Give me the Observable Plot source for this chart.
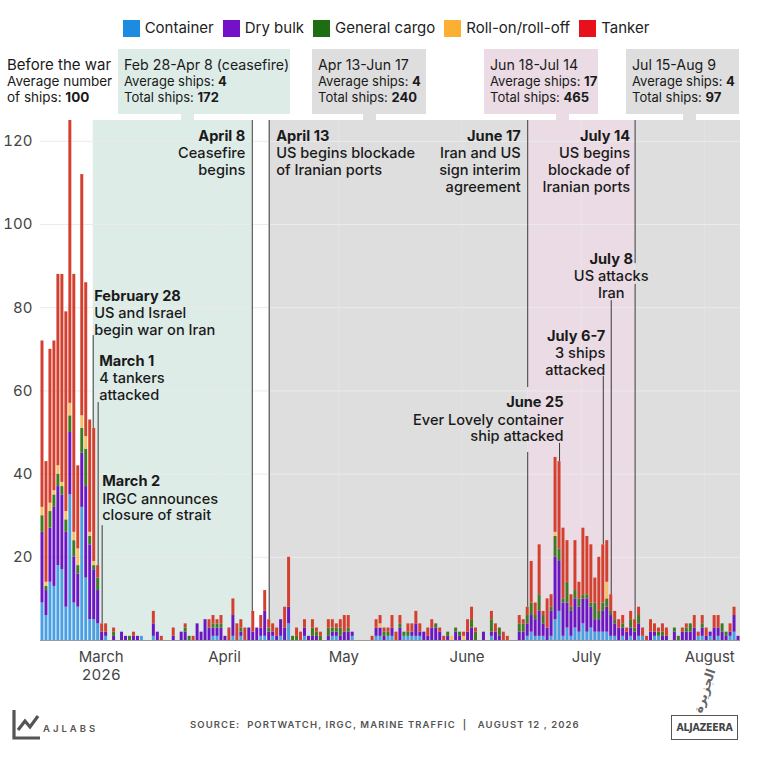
<!DOCTYPE html>
<html><head><meta charset="utf-8">
<script src="https://cdn.jsdelivr.net/npm/d3@7"></script>
<script src="https://cdn.jsdelivr.net/npm/@observablehq/plot@0.6"></script>
<style>
body{margin:0;background:#fff;font-family:Inter,"Open Sans",sans-serif;color:#1a1a1a}
#wrap{position:relative;width:772px;height:765px;overflow:hidden;background:#fff}
#chart{position:absolute;left:0;top:0}
.legend{position:absolute;top:19px;left:0;width:772px;display:flex;justify-content:center;font-size:15px;line-height:18px;color:#222}
.legend .it{display:flex;align-items:center;margin:0 4.5px}
.legend .sw{display:inline-block;width:17px;height:17px;margin-right:5px}
.box{position:absolute;top:49px;height:65px;padding:8px 6px 0 6px;box-sizing:border-box;font-size:13px;line-height:16px;color:#1a1a1a;white-space:nowrap}
.box .t{font-size:14.2px}
.box b{font-weight:700}
.stub{position:absolute;top:113px;height:9px;width:13px}
.footer-src{position:absolute;top:719px;left:190px;font-size:9.5px;letter-spacing:1.1px;color:#555;font-weight:600;white-space:nowrap}
.ajlabs{position:absolute;left:12px;top:708px}
.aj{position:absolute;left:670px;top:670px;width:70px;height:72px}
</style></head>
<body><div id="wrap">
<div id="chart"></div>
<div class="legend" id="legend"></div>
<div id="boxes"></div>
<div class="footer-src">SOURCE:&nbsp; PORTWATCH, IRGC, MARINE TRAFFIC &nbsp;|&nbsp;&nbsp; AUGUST 12 , 2026</div>
<div class="ajlabs"><svg width="90" height="34" viewBox="0 0 90 34">
<path d="M2 2 V30 H28" fill="none" stroke="#555" stroke-width="3.2"/>
<path d="M6 22 L13 13 L18 19 L26 8" fill="none" stroke="#555" stroke-width="3.2"/>
<text x="31" y="24" font-size="9.5" letter-spacing="3" fill="#555" font-family="Inter, sans-serif" font-weight="600">AJLABS</text>
</svg></div>
<div class="aj">
<div style="position:absolute;left:12px;top:14px;width:44px;text-align:center;font-family:'DejaVu Sans',sans-serif;font-weight:bold;font-size:12.5px;color:#666;transform:rotate(-72deg);transform-origin:50% 50%">الجزيرة</div>
<div style="position:absolute;left:1px;top:45px;width:67px;height:25px;border:1.6px solid #555;box-sizing:border-box;font-family:'DejaVu Sans Condensed','DejaVu Sans',sans-serif;font-weight:700;font-size:10.5px;letter-spacing:-0.3px;line-height:22px;text-align:center;color:#444">ALJAZEERA</div>
</div>
</div>
<script>
// ---- Data: daily ships transiting, from Feb 15 2026 (one value per day) ----
const startDate = "2026-02-15";
const types = ["Container", "Dry bulk", "General cargo", "Roll-on/roll-off", "Tanker"];
const legendColors = ["#1c8ce0", "#7410c8", "#1d6e12", "#fbb034", "#e8101a"];
const barColors = ["#4a9fe2", "#6a16c2", "#3f7a22", "#f6bf63", "#d4402f"];

const container = [
  9,6,14,13,18,17,8,  35,9,8,32,15,5,5,  4,0,1,0,0,0,0,  0,0,0,0,1,0,0,  1,0,0,0,0,0,0,
  0,0,0,0,0,0,0,  0,1,1,0,0,0,1,  0,1,0,0,0,0,1,  1,0,1,0,1,0,4,  0,0,0,1,0,0,0,
  0,0,0,1,1,0,0,  0,1,0,0,0,0,0,  1,1,0,1,1,0,0,  1,1,1,1,1,0,0,  0,0,0,0,0,0,0,
  0,0,0,0,0,0,0,  0,1,0,0,0,0,0,  0,0,0,1,2,1,1,  1,0,1,5,7,1,3,  1,3,2,4,2,3,2,
  2,2,2,1,1,0,1,  0,1,0,1,1,0,0,  1,1,0,0,0,0,0,  0,0,0,0,1,1,0,  1,0,1,0,0,1,2,  0];
const dryBulk = [
  17,6,13,19,19,18,18,  15,11,8,13,22,18,12,  8,2,1,0,1,0,2,  1,0,1,1,0,0,0,  3,2,0,0,0,1,0,
  2,2,0,0,4,2,5,  3,2,2,3,1,0,5,  0,1,0,3,2,3,2,  6,2,1,1,4,3,4,  0,0,0,2,1,1,1,
  0,0,1,1,1,1,2,  2,1,0,0,0,0,0,  2,2,1,0,2,0,3,  0,0,1,3,1,2,1,  3,3,2,0,1,0,2,
  1,0,2,3,0,0,2,  0,1,2,1,0,0,0,  0,2,2,3,4,4,6,  3,3,6,15,12,8,6,  6,7,6,6,8,5,3,
  3,5,6,5,3,3,2,  2,2,2,3,0,0,2,  1,0,1,1,0,2,0,  2,2,2,3,0,2,1,  1,3,2,2,1,1,4,  1];
const generalCargo = [
  4,1,4,3,3,2,3,  4,4,2,6,9,2,1,  3,0,0,0,1,0,0,  0,1,0,0,0,0,0,  0,0,0,0,0,0,0,
  0,1,1,0,0,0,0,  0,1,1,1,0,0,0,  0,1,0,0,0,0,0,  0,1,0,0,0,0,0,  1,1,0,0,0,2,1,
  1,0,2,1,1,2,0,  1,0,0,0,0,0,0,  0,0,1,1,0,0,1,  1,1,0,0,0,0,0,  0,1,0,0,1,0,1,
  1,0,0,2,2,0,0,  0,3,0,2,0,0,0,  0,2,2,2,3,1,4,  2,0,1,5,3,1,5,  1,2,2,1,1,1,4,
  2,2,2,1,1,0,1,  0,2,1,2,0,0,0,  0,1,1,0,0,1,1,  0,1,2,0,0,1,0,  0,0,0,2,1,0,0,  0];
const rollOnRollOff = [
  2,1,2,1,2,1,2,  3,2,4,3,3,1,1,  0,0,0,0,0,0,0,  0,0,0,0,0,0,0,  0,0,0,0,0,0,0,
  0,0,0,0,0,0,0,  0,0,0,0,0,0,0,  0,0,0,0,0,0,0,  0,0,0,0,0,0,0,  0,0,0,0,0,0,0,
  0,0,0,0,0,0,0,  0,0,0,0,0,0,0,  0,1,0,0,0,0,0,  0,0,0,0,0,0,0,  0,0,0,0,0,1,0,
  0,1,0,0,0,0,0,  0,0,0,0,0,0,0,  0,0,0,0,0,0,0,  0,0,0,1,0,0,0,  0,0,0,0,0,0,0,
  0,0,4,0,0,0,0,  0,0,0,0,0,0,0,  0,0,0,0,0,0,0,  0,0,0,0,0,0,0,  0,0,0,0,0,0,0,  0];
const tanker = [
  40,29,37,36,46,50,48,  68,62,20,58,37,27,32,  3,2,2,0,1,0,0,  0,0,1,0,0,0,0,  3,0,1,0,0,2,0,
  0,1,0,1,0,0,0,  2,2,1,2,0,3,4,  4,2,3,0,5,0,3,  5,2,2,2,0,5,12,  0,2,2,2,0,2,1,
  1,0,2,2,1,2,4,  3,0,0,0,0,0,1,  2,2,1,1,3,2,2,  0,2,2,3,2,0,2,  2,0,1,1,0,0,0,
  0,1,3,3,1,0,0,  0,2,2,0,2,1,0,  0,2,1,2,10,3,12,  1,7,3,18,21,17,10,  3,12,4,16,14,14,6,
  13,14,10,4,2,2,2,  1,2,2,2,2,1,3,  2,1,2,2,0,0,0,  1,1,0,3,1,2,2,  0,3,3,0,0,2,2,  0];

// Period shading and summary boxes
const periodStarts = ["2026-02-28T06:00", "2026-04-13T12:00", "2026-06-17T12:00", "2026-07-14T12:00"];
const periodEnds   = ["2026-04-09T06:00", "2026-06-17T12:00", "2026-07-14T12:00", "2026-08-10T00:00"];
const periodColors = ["#deece8", "#dedede", "#ebdbe4", "#dedede"];
const boxTitles = ["Feb 28-Apr 8 (ceasefire)", "Apr 13-Jun 17", "Jun 18-Jul 14", "Jul 15-Aug 9"];
const boxAverages = [4, 4, 17, 4];
const boxTotals = [172, 240, 465, 97];
const prewarAverage = 100;

// Event annotations
const eventDates = ["2026-02-28T06:00","2026-03-01T12:00","2026-03-02T12:00","2026-04-09T06:00","2026-04-13T12:00",
                    "2026-06-17T12:00","2026-06-25T12:00","2026-07-06T12:00","2026-07-08T12:00","2026-07-14T12:00"];
const eventTitles = ["February 28","March 1","March 2","April 8","April 13","June 17","June 25","July 6-7","July 8","July 14"];
const eventBodies = ["US and Israel\nbegin war on Iran","4 tankers\nattacked","IRGC announces\nclosure of strait",
                     "Ceasefire\nbegins","US begins blockade\nof Iranian ports","Iran and US\nsign interim\nagreement",
                     "Ever Lovely container\nship attacked","3 ships\nattacked","US attacks\nIran","US begins\nblockade of\nIranian ports"];
const eventTextY = [82.7, 67.1, 38.2, 121.2, 121.2, 121.2, 57.2, 73.1, 91.6, 121.2];
const eventLineTop = [73.3, 57.2, 27.6, 125, 125, 125, 47.4, 63.5, 81.7, 125];
// where a leader line passes behind another event's text, it is interrupted
const eventGapHigh = [null, null, null, null, null, 60.8, null, null, null, 90.6];
const eventGapLow  = [null, null, null, null, null, 45.2, null, null, null, 85.6];
const eventAnchor = ["start","start","start","end","start","end","end","end","middle","end"];
const eventDx = [1, 1, 0, -7, 7, -7, 4, 2, 0, -5];

const yTicks = [20, 40, 60, 80, 100, 120];

// ---- Build tables ----
const start = new Date(startDate + "T00:00Z");
const series = [container, dryBulk, generalCargo, rollOnRollOff, tanker];
const dates = container.map((_, i) => d3.utcDay.offset(start, i));
const rows = [];
dates.forEach((d, i) => types.forEach((t, k) => rows.push({date: d, type: t, value: series[k][i]})));
const totals = dates.map((d, i) => d3.sum(series, s => s[i]));
const end = d3.utcDay.offset(start, dates.length);
const totalAt = (dt) => totals[d3.utcDay.count(start, d3.utcDay.floor(dt))];

const periods = periodStarts.map((s, i) => ({x1: new Date(s + "Z"), x2: new Date(periodEnds[i] + "Z"), color: periodColors[i]}));
const events = eventDates.map((s, i) => {
  const d = new Date(s + "Z");
  return {date: d, title: eventTitles[i], body: eventBodies[i], ty: eventTextY[i],
          top: eventLineTop[i], bottom: totalAt(d), anchor: eventAnchor[i], dx: eventDx[i],
          gapHigh: eventGapHigh[i], gapLow: eventGapLow[i]};
});
const segments = events.flatMap(e => e.gapHigh == null
  ? [{date: e.date, y1: e.bottom, y2: e.top}]
  : [{date: e.date, y1: e.gapHigh, y2: e.top}, {date: e.date, y1: e.bottom, y2: e.gapLow}]);
const monthStarts = d3.utcMonths(new Date("2026-03-01T00:00Z"), new Date("2026-08-02T00:00Z"));
const fmtMonth = d3.utcFormat("%B");

const font = "Inter, 'Open Sans', sans-serif";
const chart = Plot.plot({
  width: 772, height: 700,
  marginTop: 120, marginBottom: 60, marginLeft: 40, marginRight: 32,
  style: {fontFamily: font, background: "transparent", color: "#333", overflow: "visible"},
  x: {type: "utc", domain: [start, end]},
  y: {domain: [0, 125]},
  color: {domain: types, range: barColors},
  marks: [
    ...periods.map(p => Plot.rect([p], {x1: "x1", x2: "x2", fill: p.color})),
    Plot.ruleY(yTicks, {stroke: "#ebebeb", strokeWidth: 1}),
    Plot.ruleX(monthStarts.slice(1), {stroke: "#e8e8e8", strokeWidth: 1, strokeOpacity: 0.7}),
    Plot.ruleX(segments, {x: "date", y1: "y1", y2: "y2", stroke: "#3a3a3a", strokeWidth: 1}),
    Plot.rectY(rows, {x: "date", interval: "day", y: "value", fill: "type", order: types, insetLeft: 0.5, insetRight: 0.5}),
    Plot.ruleY([0], {stroke: "#9a9a9a", strokeWidth: 1}),
    ...events.flatMap(e => [
      Plot.text([e], {x: "date", y: "ty", text: "title", textAnchor: e.anchor, dx: e.dx, lineAnchor: "middle",
        fontWeight: 700, fontSize: 14.6, fill: "#1a1a1a"}),
      Plot.text([e], {x: "date", y: "ty", text: "body", textAnchor: e.anchor, dx: e.dx, dy: 10.2, lineAnchor: "top",
        lineHeight: 1.14, fontWeight: 500, fontSize: 14.6, fill: "#1a1a1a"})
    ]),
    Plot.axisY({ticks: yTicks, tickSize: 0, tickPadding: 8, label: null, fontSize: 15, fill: "#444"}),
    Plot.axisX({ticks: monthStarts, tickSize: 0, tickPadding: 9, dx: 5, label: null, fontSize: 15, fill: "#444",
      lineHeight: 1.2, tickFormat: d => d.getUTCMonth() === 2 ? fmtMonth(d) + "\n" + d.getUTCFullYear() : fmtMonth(d)})
  ]
});
document.getElementById("chart").appendChild(chart);

// Legend
const legend = document.getElementById("legend");
types.forEach((t, i) => {
  const it = document.createElement("div");
  it.className = "it";
  it.innerHTML = `<span class="sw" style="background:${legendColors[i]}"></span><span>${t}</span>`;
  legend.appendChild(it);
});

// Summary boxes (layout positions)
const boxLeft = [118, 312, 484, 626];
const boxWidth = [172, 114, 114, 113];
const stubLeft = [181, 363, 556, 683];
const boxes = document.getElementById("boxes");
let html = `<div class="box" style="left:1px;"><div class="t" style="font-size:15px">Before the war</div><div style="font-size:13.5px">Average number</div><div style="font-size:13.5px">of ships: <b>${prewarAverage}</b></div></div>`;
boxTitles.forEach((t, i) => {
  html += `<div class="box" style="left:${boxLeft[i]}px;width:${boxWidth[i]}px;background:${periodColors[i]}"><div class="t">${t}</div><div>Average ships: <b>${boxAverages[i]}</b></div><div>Total ships: <b>${boxTotals[i]}</b></div></div>`;
  html += `<div class="stub" style="left:${stubLeft[i]}px;background:${periodColors[i]}"></div>`;
});
boxes.innerHTML = html;
</script>
</body></html>
